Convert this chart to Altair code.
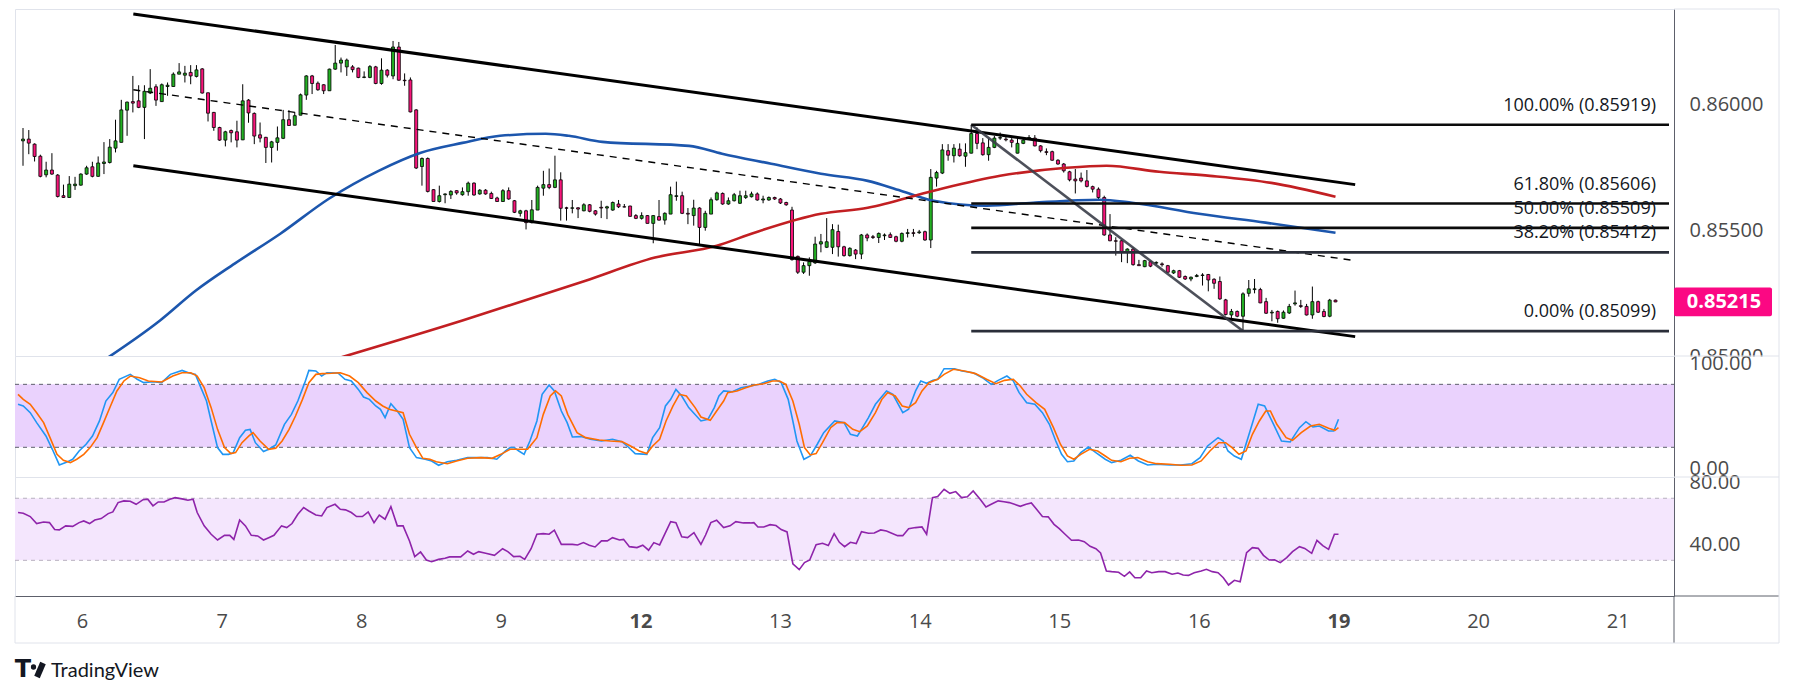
import altair as alt
import pandas as pd

# ------------------------------------------------------------------ data
day_ticks = [0, 24, 48, 72, 96, 120, 144, 168, 192, 216, 240, 264]
day_labels = ["6", "7", "8", "9", "12", "13", "14", "15", "16", "19", "20", "21"]
week_start_ticks = [96, 216]

price_ticks = [0.85, 0.855, 0.86]
stoch_ticks = [0, 100]
rsi_ticks = [40, 80]

first_bar = -11  # hourly bars, 0 = day 6 00:00

open_ = [0.85855, 0.85862, 0.85842, 0.85794, 0.85720, 0.85739, 0.85719, 0.85637, 0.85630, 0.85677,
         0.85679, 0.85723, 0.85752, 0.85714, 0.85765, 0.85769, 0.85826, 0.85849, 0.85977, 0.86011,
         0.86014, 0.85988, 0.86045, 0.86070, 0.86011, 0.86071, 0.86071, 0.86120, 0.86116, 0.86127,
         0.86111, 0.86141, 0.86046, 0.85968, 0.85908, 0.85858, 0.85896, 0.85891, 0.85859, 0.86017,
         0.85964, 0.85879, 0.85869, 0.85829, 0.85849, 0.85865, 0.85939, 0.85917, 0.85957, 0.86037,
         0.86113, 0.86084, 0.86078, 0.86054, 0.86140, 0.86164, 0.86149, 0.86149, 0.86144, 0.86107,
         0.86107, 0.86149, 0.86083, 0.86136, 0.86113, 0.86228, 0.86096, 0.86097, 0.85978, 0.85753,
         0.85785, 0.85661, 0.85614, 0.85641, 0.85640, 0.85657, 0.85641, 0.85653, 0.85687, 0.85644,
         0.85659, 0.85646, 0.85628, 0.85614, 0.85657, 0.85617, 0.85567, 0.85577, 0.85530, 0.85580,
         0.85667, 0.85681, 0.85670, 0.85700, 0.85589, 0.85587, 0.85589, 0.85577, 0.85601, 0.85577,
         0.85591, 0.85588, 0.85580, 0.85604, 0.85593, 0.85596, 0.85558, 0.85547, 0.85558, 0.85527,
         0.85554, 0.85540, 0.85564, 0.85634, 0.85637, 0.85567, 0.85558, 0.85588, 0.85511, 0.85564,
         0.85621, 0.85646, 0.85604, 0.85617, 0.85607, 0.85630, 0.85633, 0.85644, 0.85620, 0.85620,
         0.85630, 0.85624, 0.85610, 0.85580, 0.85396, 0.85333, 0.85359, 0.85370, 0.85445, 0.85432,
         0.85432, 0.85495, 0.85434, 0.85399, 0.85421, 0.85405, 0.85481, 0.85474, 0.85471, 0.85478,
         0.85482, 0.85474, 0.85456, 0.85487, 0.85490, 0.85490, 0.85494, 0.85461, 0.85707, 0.85727,
         0.85816, 0.85796, 0.85822, 0.85794, 0.85806, 0.85884, 0.85847, 0.85800, 0.85829, 0.85866,
         0.85862, 0.85858, 0.85806, 0.85845, 0.85866, 0.85866, 0.85835, 0.85812, 0.85812, 0.85778,
         0.85763, 0.85732, 0.85703, 0.85707, 0.85696, 0.85673, 0.85663, 0.85630, 0.85481, 0.85458,
         0.85458, 0.85415, 0.85425, 0.85363, 0.85355, 0.85375, 0.85369, 0.85366, 0.85359, 0.85330,
         0.85339, 0.85316, 0.85306, 0.85316, 0.85320, 0.85324, 0.85305, 0.85296, 0.85223, 0.85163,
         0.85177, 0.85158, 0.85249, 0.85264, 0.85264, 0.85216, 0.85171, 0.85177, 0.85150, 0.85171,
         0.85207, 0.85200, 0.85197, 0.85163, 0.85216, 0.85177, 0.85158, 0.85222]
high = [0.85906, 0.85898, 0.85845, 0.85800, 0.85772, 0.85806, 0.85723, 0.85681, 0.85715, 0.85712,
        0.85726, 0.85756, 0.85772, 0.85793, 0.85850, 0.85862, 0.85939, 0.86018, 0.86011, 0.86113,
        0.86076, 0.86076, 0.86140, 0.86080, 0.86083, 0.86087, 0.86127, 0.86164, 0.86153, 0.86156,
        0.86156, 0.86144, 0.86047, 0.85970, 0.85911, 0.85895, 0.85900, 0.85935, 0.86080, 0.86021,
        0.85968, 0.85928, 0.85871, 0.85855, 0.85912, 0.85978, 0.85977, 0.85970, 0.86043, 0.86116,
        0.86117, 0.86091, 0.86080, 0.86142, 0.86236, 0.86186, 0.86182, 0.86156, 0.86146, 0.86131,
        0.86156, 0.86153, 0.86183, 0.86140, 0.86252, 0.86248, 0.86123, 0.86107, 0.85981, 0.85789,
        0.85789, 0.85663, 0.85677, 0.85646, 0.85659, 0.85659, 0.85670, 0.85693, 0.85690, 0.85663,
        0.85663, 0.85653, 0.85633, 0.85663, 0.85670, 0.85620, 0.85581, 0.85581, 0.85620, 0.85677,
        0.85736, 0.85745, 0.85796, 0.85730, 0.85593, 0.85620, 0.85591, 0.85607, 0.85604, 0.85580,
        0.85617, 0.85597, 0.85614, 0.85620, 0.85604, 0.85597, 0.85564, 0.85571, 0.85560, 0.85560,
        0.85620, 0.85571, 0.85673, 0.85693, 0.85653, 0.85588, 0.85621, 0.85591, 0.85577, 0.85630,
        0.85653, 0.85650, 0.85630, 0.85648, 0.85657, 0.85657, 0.85653, 0.85650, 0.85637, 0.85634,
        0.85633, 0.85628, 0.85613, 0.85593, 0.85399, 0.85372, 0.85392, 0.85474, 0.85485, 0.85548,
        0.85524, 0.85522, 0.85438, 0.85432, 0.85425, 0.85485, 0.85487, 0.85481, 0.85491, 0.85487,
        0.85491, 0.85478, 0.85491, 0.85505, 0.85505, 0.85501, 0.85498, 0.85743, 0.85736, 0.85842,
        0.85842, 0.85842, 0.85845, 0.85845, 0.85919, 0.85908, 0.85866, 0.85864, 0.85875, 0.85888,
        0.85871, 0.85866, 0.85868, 0.85868, 0.85878, 0.85878, 0.85838, 0.85825, 0.85816, 0.85782,
        0.85767, 0.85736, 0.85743, 0.85729, 0.85739, 0.85677, 0.85670, 0.85637, 0.85564, 0.85472,
        0.85462, 0.85428, 0.85432, 0.85382, 0.85382, 0.85379, 0.85376, 0.85372, 0.85362, 0.85343,
        0.85342, 0.85320, 0.85316, 0.85326, 0.85329, 0.85326, 0.85309, 0.85316, 0.85227, 0.85187,
        0.85181, 0.85253, 0.85302, 0.85306, 0.85271, 0.85231, 0.85183, 0.85181, 0.85181, 0.85207,
        0.85260, 0.85223, 0.85207, 0.85276, 0.85220, 0.85187, 0.85227, 0.85224]
low = [0.85756, 0.85802, 0.85773, 0.85710, 0.85710, 0.85720, 0.85630, 0.85628, 0.85629, 0.85660,
       0.85677, 0.85720, 0.85710, 0.85712, 0.85723, 0.85765, 0.85809, 0.85849, 0.85875, 0.85968,
       0.85985, 0.85862, 0.86041, 0.85994, 0.86010, 0.86034, 0.86070, 0.86120, 0.86087, 0.86080,
       0.86107, 0.86043, 0.85932, 0.85895, 0.85855, 0.85833, 0.85849, 0.85829, 0.85858, 0.85927,
       0.85842, 0.85849, 0.85767, 0.85769, 0.85816, 0.85862, 0.85915, 0.85917, 0.85957, 0.86018,
       0.86041, 0.86054, 0.86041, 0.86054, 0.86137, 0.86127, 0.86113, 0.86127, 0.86104, 0.86104,
       0.86104, 0.86080, 0.86078, 0.86107, 0.86100, 0.86094, 0.86074, 0.85968, 0.85743, 0.85677,
       0.85650, 0.85614, 0.85610, 0.85607, 0.85624, 0.85641, 0.85637, 0.85637, 0.85637, 0.85641,
       0.85641, 0.85624, 0.85614, 0.85613, 0.85621, 0.85568, 0.85554, 0.85503, 0.85527, 0.85580,
       0.85637, 0.85663, 0.85667, 0.85538, 0.85538, 0.85567, 0.85548, 0.85575, 0.85571, 0.85558,
       0.85548, 0.85544, 0.85577, 0.85588, 0.85591, 0.85554, 0.85544, 0.85542, 0.85527, 0.85448,
       0.85538, 0.85522, 0.85564, 0.85617, 0.85564, 0.85524, 0.85518, 0.85445, 0.85498, 0.85564,
       0.85617, 0.85601, 0.85601, 0.85614, 0.85604, 0.85624, 0.85630, 0.85617, 0.85607, 0.85617,
       0.85620, 0.85604, 0.85597, 0.85379, 0.85326, 0.85326, 0.85319, 0.85366, 0.85412, 0.85429,
       0.85405, 0.85395, 0.85395, 0.85395, 0.85385, 0.85385, 0.85456, 0.85465, 0.85449, 0.85461,
       0.85469, 0.85452, 0.85452, 0.85471, 0.85474, 0.85485, 0.85458, 0.85429, 0.85673, 0.85723,
       0.85776, 0.85769, 0.85792, 0.85752, 0.85805, 0.85822, 0.85796, 0.85776, 0.85826, 0.85859,
       0.85853, 0.85829, 0.85805, 0.85842, 0.85862, 0.85833, 0.85809, 0.85798, 0.85776, 0.85760,
       0.85729, 0.85694, 0.85646, 0.85690, 0.85670, 0.85650, 0.85620, 0.85478, 0.85456, 0.85399,
       0.85373, 0.85369, 0.85359, 0.85359, 0.85353, 0.85353, 0.85363, 0.85355, 0.85330, 0.85326,
       0.85310, 0.85302, 0.85297, 0.85313, 0.85280, 0.85257, 0.85267, 0.85223, 0.85161, 0.85150,
       0.85154, 0.85099, 0.85236, 0.85249, 0.85210, 0.85167, 0.85138, 0.85132, 0.85148, 0.85167,
       0.85200, 0.85191, 0.85161, 0.85148, 0.85171, 0.85154, 0.85154, 0.85214]
close = [0.85862, 0.85846, 0.85793, 0.85714, 0.85739, 0.85723, 0.85634, 0.85630, 0.85683, 0.85683,
         0.85723, 0.85748, 0.85714, 0.85767, 0.85771, 0.85830, 0.85855, 0.85978, 0.86009, 0.86005,
         0.85988, 0.86052, 0.86064, 0.86017, 0.86078, 0.86076, 0.86120, 0.86129, 0.86124, 0.86113,
         0.86137, 0.86045, 0.85965, 0.85908, 0.85858, 0.85891, 0.85887, 0.85858, 0.86014, 0.85966,
         0.85874, 0.85866, 0.85829, 0.85851, 0.85867, 0.85939, 0.85916, 0.85955, 0.86038, 0.86113,
         0.86083, 0.86058, 0.86054, 0.86140, 0.86164, 0.86176, 0.86176, 0.86138, 0.86107, 0.86109,
         0.86150, 0.86083, 0.86136, 0.86116, 0.86228, 0.86096, 0.86094, 0.85970, 0.85747, 0.85785,
         0.85654, 0.85614, 0.85637, 0.85644, 0.85654, 0.85648, 0.85653, 0.85687, 0.85640, 0.85659,
         0.85644, 0.85626, 0.85614, 0.85657, 0.85624, 0.85571, 0.85577, 0.85530, 0.85581, 0.85670,
         0.85681, 0.85670, 0.85700, 0.85587, 0.85587, 0.85589, 0.85584, 0.85601, 0.85575, 0.85564,
         0.85588, 0.85593, 0.85610, 0.85593, 0.85592, 0.85555, 0.85547, 0.85558, 0.85527, 0.85558,
         0.85540, 0.85567, 0.85641, 0.85637, 0.85567, 0.85564, 0.85588, 0.85511, 0.85567, 0.85621,
         0.85648, 0.85604, 0.85617, 0.85641, 0.85637, 0.85637, 0.85644, 0.85620, 0.85624, 0.85630,
         0.85624, 0.85608, 0.85601, 0.85383, 0.85333, 0.85359, 0.85375, 0.85445, 0.85454, 0.85454,
         0.85502, 0.85434, 0.85399, 0.85428, 0.85405, 0.85481, 0.85469, 0.85471, 0.85487, 0.85481,
         0.85471, 0.85456, 0.85487, 0.85490, 0.85487, 0.85493, 0.85461, 0.85710, 0.85729, 0.85819,
         0.85798, 0.85826, 0.85796, 0.85808, 0.85884, 0.85845, 0.85800, 0.85829, 0.85866, 0.85868,
         0.85859, 0.85849, 0.85845, 0.85858, 0.85868, 0.85835, 0.85816, 0.85809, 0.85778, 0.85763,
         0.85736, 0.85700, 0.85696, 0.85696, 0.85674, 0.85663, 0.85630, 0.85481, 0.85458, 0.85456,
         0.85412, 0.85425, 0.85363, 0.85359, 0.85379, 0.85357, 0.85372, 0.85363, 0.85333, 0.85339,
         0.85313, 0.85306, 0.85313, 0.85320, 0.85322, 0.85302, 0.85289, 0.85227, 0.85165, 0.85177,
         0.85158, 0.85247, 0.85267, 0.85267, 0.85211, 0.85170, 0.85174, 0.85148, 0.85174, 0.85197,
         0.85211, 0.85197, 0.85163, 0.85216, 0.85174, 0.85157, 0.85222, 0.85215]

ma_blue_t = [2, 12.7, 18.9, 25.6, 33.5, 41.9, 50.5, 57.8, 65, 71.5, 79.4, 83.4, 89.2, 104.2,
             109.9, 118.4, 127, 135.1, 140.8, 146.5, 155.7, 163.7, 175.2, 180.8, 192.4, 203.9, 216]
ma_blue_v = [0.84968, 0.85141, 0.85260, 0.85367, 0.85486, 0.85625, 0.85736, 0.85808, 0.85847,
             0.85875, 0.85883, 0.85875, 0.85851, 0.85835, 0.85804, 0.85764, 0.85724, 0.85696,
             0.85657, 0.85617, 0.85597, 0.85609, 0.85621, 0.85609, 0.85565, 0.85530, 0.85490]
ma_red_t = [41, 65, 86.3, 98.3, 109, 115.5, 127, 135.1, 146.5, 158, 169.5, 176.4, 185.5,
            194.3, 204.9, 216]
ma_red_v = [0.84974, 0.85141, 0.85299, 0.85391, 0.85438, 0.85490, 0.85565, 0.85589, 0.85657,
            0.85716, 0.85748, 0.85756, 0.85732, 0.85716, 0.85688, 0.85633]

channel_t = [8.08, 219.4]
channel_upper = [0.86359, 0.85681]
channel_mid = [0.86058, 0.85379]
channel_lower = [0.85756, 0.85077]

swing_t = [153, 200]
swing_v = [0.85919, 0.85099]

fib_pct = ["100.00%", "61.80%", "50.00%", "38.20%", "0.00%"]
fib_level = [0.85919, 0.85606, 0.85509, 0.85412, 0.85099]
fib_start = 153

last_price = 0.85215

stoch_k_t = [-11, -10.1, -8.9, -7.8, -6.2, -5.1, -3.9, -2.8, -1.6, -0.5, 0.7, 1.8, 3.0, 4.1, 5.3,
             6.4, 8.3, 9.5, 10.6, 12.2, 13.7, 15.2, 17.2, 18.3, 19.5, 20.2, 21.4, 22.2, 23.3,
             24.2, 25.2, 26.0, 27.1, 28.1, 28.9, 29.8, 31.2, 32.1, 33.3, 34.8, 36.0, 37.1, 38.3,
             39.0, 40.2, 41.2, 42.1, 44.0, 45.2, 46.3, 47.5, 48.4, 49.4, 50.5, 51.3, 52.1, 53.1,
             54.2, 55.2, 56.3, 57.5, 59.0, 60.1, 61.3, 62.8, 64.4, 66.3, 68.2, 69.7, 71.3, 72.8,
             73.6, 74.3, 75.1, 76.0, 77.0, 78.2, 79.1, 80.3, 81.2, 82.4, 83.4, 84.3, 85.8, 87.4,
             89.3, 91.2, 92.8, 93.9, 95.1, 97.1, 98.1, 99.3, 100.3, 101.2, 102.1, 103.1, 104.3,
             106.4, 107.6, 108.7, 109.5, 110.3, 111.8, 113.3, 114.9, 116.4, 117.9, 119.1, 120.2,
             121.4, 122.2, 122.9, 124.1, 125.2, 126.4, 127.5, 129.4, 131.0, 132.1, 133.3, 134.0,
             135.2, 136.4, 138.3, 139.4, 141.1, 142.1, 143.3, 144.2, 145.2, 146.3, 147.1, 148.2,
             150.0, 151.3, 153.2, 154.8, 156.3, 157.5, 159.0, 160.1, 161.1, 162.4, 163.8, 165.1,
             166.3, 167.4, 168.4, 169.4, 170.5, 171.7, 173.0, 174.3, 175.9, 177.0, 178.6, 180.2,
             181.6, 183.2, 184.7, 187.0, 188.9, 190.8, 192.2, 193.5, 195.3, 196.2, 197.0, 198.1,
             199.3, 200.8, 202.2, 203.3, 204.7, 206.2, 207.7, 209.3, 210.4, 211.6, 212.7, 214.3,
             215.2, 216]
stoch_k_v = [61.0, 59.4, 53.0, 43.5, 30.8, 18.1, 3.2, 5.4, 8.6, 16.5, 22.9, 30.8, 45.1, 64.1, 72.1,
             84.8, 89.5, 84.8, 81.6, 82.5, 81.6, 89.5, 93.3, 91.1, 89.5, 80.0, 64.1, 45.1, 19.7,
             13.3, 13.3, 14.9, 29.2, 36.2, 37.1, 24.4, 15.9, 18.1, 22.2, 41.9, 51.4, 64.1, 81.6,
             93.3, 92.7, 87.9, 91.1, 90.8, 84.8, 83.2, 75.2, 67.9, 65.7, 59.4, 56.2, 48.3, 61.6,
             54.6, 46.7, 19.7, 10.2, 8.6, 7.0, 2.9, 6.3, 7.6, 10.2, 10.2, 10.2, 8.6, 16.5,
             19.7, 19.7, 16.5, 13.3, 26.0, 45.1, 70.5, 79.4, 73.7, 54.6, 43.5, 29.8, 30.2, 27.6,
             26.0, 27.6, 25.4, 20.3, 14.0, 13.3, 29.2, 38.7, 59.4, 65.7, 75.2, 68.9, 57.8,
             45.1, 46.7, 57.8, 68.9, 73.7, 73.0, 76.8, 78.4, 80.0, 83.2, 84.8, 81.6,
             65.7, 45.1, 26.0, 8.6, 11.7, 22.9, 34.0, 45.1, 43.5, 32.4, 30.8, 37.1,
             48.3, 61.0, 73.7, 70.5, 53.0, 56.2, 73.7, 83.2, 81.0, 83.8, 84.8, 94.9,
             94.9, 92.7, 91.1, 86.3, 80.0, 83.8, 87.9, 83.2, 72.1, 62.5, 61.0, 53.0,
             41.9, 26.0, 13.3, 6.3, 7.0, 14.9, 20.3, 14.9, 8.6, 5.4, 7.6, 12.4,
             7.0, 3.2, 3.8, 3.2, 3.2, 4.4, 10.2, 21.3, 29.2, 26.0, 16.5, 11.7,
             8.6, 35.6, 61.0, 59.4, 43.5, 26.0, 25.1, 38.7, 44.4, 39.4, 40.3, 35.6,
             35.6, 46.7]
stoch_d_t = [-11, -10.1, -8.9, -7.8, -6.6, -5.5, -4.3, -3.2, -2.0, -0.9, 0.3, 1.4, 2.6, 3.7, 4.9,
             6.0, 7.2, 8.3, 9.9, 11.4, 13.7, 15.6, 17.2, 18.7, 19.8, 21.0, 22.2, 23.3, 24.5, 25.6,
             26.4, 27.5, 28.7, 29.4, 30.6, 32.1, 33.3, 34.4, 35.6, 36.7, 37.9, 39.0, 40.2, 41.3,
             42.9, 44.4, 46.0, 47.5, 49.0, 50.5, 51.7, 52.8, 55.2, 56.3, 57.5, 58.6, 59.8, 60.9,
             62.8, 64.4, 66.3, 68.6, 70.5, 72.0, 73.6, 75.1, 76.6, 78.2, 79.3, 80.5, 81.4, 82.4,
             83.5, 85.1, 86.6, 88.9, 90.8, 92.8, 94.3, 95.8, 97.1, 98.1, 99.3, 100.4, 101.6,
             102.7, 103.9, 105.4,
             106.4, 108.0, 109.1, 110.3, 111.0, 112.6, 114.1, 115.6, 117.2, 118.7, 119.9, 121.0,
             122.2, 123.3, 124.2, 125.2, 126.2, 127.3, 128.7, 129.8, 131.1, 132.5, 133.7, 135.0,
             136.4, 137.5, 138.5, 139.8, 141.0, 142.1, 143.3, 144.4, 145.6, 147.1, 148.2, 149.8,
             151.7, 153.6, 155.5, 157.1, 158.6, 160.1, 161.3, 162.4, 164.0, 165.5, 167.0, 168.2,
             169.4, 170.5, 171.7, 173.2, 174.6, 175.9, 177.0, 178.6, 180.1, 181.5, 183.2, 184.7,
             187.0, 188.9, 190.8, 192.4, 193.9, 195.4, 196.6, 197.7, 198.9, 200.1, 201.2, 202.4,
             203.5, 204.3, 205.4, 207.0, 208.1, 209.6, 211.2, 212.7, 214.3, 215.4, 216]
stoch_d_v = [70.5, 65.7, 61.0, 53.0, 43.5, 29.2, 13.3, 7.6, 5.4, 8.6, 13.3, 19.7, 29.2, 43.5, 59.4,
             73.7, 83.2, 87.9, 86.3, 83.2, 82.2, 87.9, 91.1, 91.1, 87.9, 76.8, 57.8, 37.1, 19.7, 14.0,
             14.9, 24.4, 30.8, 34.0, 26.0, 18.1, 19.0, 26.0, 37.1, 49.8, 65.7, 81.6, 89.5, 90.2,
             90.5, 91.1, 87.9, 81.6, 72.1, 64.1, 59.4, 56.2, 53.0, 32.4, 19.7, 9.5, 8.6, 6.3,
             4.4, 7.0, 9.5, 10.2, 9.5, 13.3, 18.1, 18.1, 18.1, 29.2, 51.4, 68.9, 73.7, 68.9,
             51.4, 34.0, 29.2, 27.0, 26.0, 25.4, 21.3, 16.5, 14.0, 21.3, 27.6, 45.1, 59.4,
             70.5, 68.9, 57.8,
             48.9, 45.7, 54.6, 64.1, 72.1, 73.7, 76.8, 79.4, 80.6, 83.2, 83.2, 80.0,
             64.1, 41.9, 19.7, 12.7, 14.0, 24.4, 38.7, 43.5, 43.5, 37.1, 34.9, 40.3,
             53.0, 65.7, 72.1, 68.9, 59.4, 57.8, 62.5, 73.7, 81.6, 84.8, 89.5, 94.3,
             92.7, 90.2, 84.8, 80.6, 83.8, 84.8, 78.4, 70.5, 62.5, 56.2, 38.7, 22.9,
             11.7, 8.6, 13.3, 18.1, 16.5, 11.7, 7.6, 6.3, 9.5, 10.2, 6.3, 4.4,
             3.8, 2.9, 3.2, 7.0, 16.5, 24.4, 24.4, 19.7, 13.3, 16.5, 32.4, 45.1,
             54.6, 54.6, 41.9, 29.2, 26.7, 34.0, 40.3, 41.9, 38.1, 36.2, 38.7]

rsi_t = [-11, -10.1, -8.9, -7.8, -6.6, -5.6, -4.7, -3.9, -2.8, -1.6, -0.5, 0.3, 1.3, 2.2, 3.3,
         4.5, 5.3, 6.2, 7.2, 8.3, 9.3, 10.5, 11.3, 12.2, 13.1, 14.1, 15.1, 16.0, 17.2, 18.2,
         19.1, 19.8, 21.0, 22.2, 23.3, 24.5, 25.4, 26.1, 27.1, 28.1, 29.1, 30.2, 31.2, 32.1,
         33.0, 34.3, 35.2, 36.1, 37.1, 38.1, 39.0, 40.2, 41.2, 42.1, 43.5, 44.4, 45.3, 46.3,
         47.2, 48.2, 49.2, 50.2, 51.1, 52.1, 53.1, 54.2, 55.2, 56.3, 57.2, 58.2, 59.2, 60.1,
         61.3, 62.4, 63.2, 65.1, 66.3, 67.3, 68.2, 69.4, 70.9, 72.3, 73.2, 74.2, 75.3, 76.1,
         77.2, 78.2, 79.3, 80.3, 81.2, 82.4, 84.3, 85.2, 86.2, 87.2, 88.2, 89.3, 90.3, 91.2,
         92.4, 93.1, 94.1, 95.4, 96.4, 97.4, 98.3, 99.3, 100.3, 101.2, 102.1, 103.1, 104.1,
         105.2,
         106.4, 107.2, 108.1, 109.1, 110.3, 111.4, 112.4, 113.7, 114.9, 115.5, 116.2, 117.2,
         118.3, 119.3, 120.2, 121.2, 122.2, 123.3, 124.2, 125.1, 126.2, 127.3, 128.3, 129.3,
         130.2, 131.1, 132.1, 133.1, 134.0, 135.2, 136.2, 137.3, 138.3, 139.0, 140.2, 141.1,
         142.1, 143.3, 144.4, 145.2, 146.2, 147.1, 148.2, 149.2, 150.2, 151.2, 152.2, 153.2,
         154.4, 155.4, 156.3, 157.5, 158.5, 159.4, 160.3, 161.3, 162.3, 163.2, 164.1, 165.1,
         166.1, 167.1, 168.0, 169.0, 170.1, 171.3, 172.3, 173.3, 174.3, 175.1, 176.1, 177.0,
         178.2, 179.2, 180.1, 181.0, 182.0, 183.0, 183.9, 185.1, 186.2, 187.4, 188.4, 189.3,
         190.2, 191.2, 192.4, 193.3, 194.3, 195.3, 196.2, 197.1, 198.1, 199.1, 200.2, 201.2,
         202.2, 203.1, 204.1, 205.0, 206.0, 207.1, 208.1, 209.3, 210.2, 211.4, 212.3, 213.3,
         214.3, 215.3, 216]
rsi_v = [60.8, 60.3, 58.2, 53.7, 54.7, 54.3, 49.8, 49.6, 52.2, 51.9, 54.3, 55.4, 53.7, 56.0, 56.9,
         60.1, 61.2, 67.2, 68.3, 68.1, 66.1, 69.1, 69.4, 65.1, 67.6, 67.6, 69.4, 70.4, 69.6, 68.7,
         69.4, 60.8, 52.2, 46.8, 43.1, 46.1, 46.1, 43.5, 56.0, 52.2, 46.1, 45.7, 43.1, 44.6,
         46.1, 52.2, 51.1, 53.7, 59.7, 64.0, 61.8, 59.2, 58.6, 64.0, 66.1, 62.9, 62.5, 60.8,
         58.2, 58.2, 61.2, 54.3, 59.2, 56.5, 64.6, 52.2, 52.2, 42.5, 32.4, 35.4, 30.2, 29.1,
         30.6, 31.3, 32.2, 32.2, 36.0, 33.9, 35.6, 34.5, 33.2, 37.5, 35.6, 32.4, 32.6, 30.6,
         37.5, 46.8, 47.2, 46.8, 49.4, 40.3, 40.3, 39.9, 41.4, 39.7, 38.6, 42.5, 42.5, 44.6,
         43.1, 43.5, 38.8, 38.2, 39.7, 36.5, 41.4, 39.9, 47.8, 54.9, 54.3, 45.1, 44.6,
         47.8,
         40.3, 46.3, 54.3, 55.8, 51.1, 52.2, 54.9, 54.1, 54.1, 54.3, 51.5, 51.5,
         53.0, 52.4, 49.8, 48.3, 27.8, 24.0, 28.5, 30.2, 40.1, 41.0, 39.5, 47.2,
         41.6, 38.8, 41.6, 40.8, 48.5, 47.4, 47.6, 49.6, 48.9, 47.8, 45.9, 45.9,
         50.4, 51.1, 51.5, 46.8, 70.4, 71.1, 75.8, 73.2, 74.3, 70.4, 70.9, 74.7,
         69.4, 64.4, 66.1, 68.3, 67.8, 67.2, 66.1, 64.8, 66.1, 67.0, 62.9, 58.2,
         58.0, 53.2, 50.4, 46.8, 42.9, 43.1, 42.0, 39.0, 37.5, 34.7, 23.1, 22.7,
         22.3, 19.7, 22.5, 18.8, 18.8, 23.1, 22.0, 22.7, 22.7, 21.0, 21.8, 20.5,
         20.3, 22.0, 23.1, 24.2, 22.7, 22.0, 18.8, 14.1, 17.1, 16.2, 34.9, 38.2,
         37.7, 33.2, 30.2, 30.4, 28.5, 31.7, 35.6, 38.8, 37.7, 34.5, 42.9, 39.5,
         37.1, 46.8, 46.8]

# ------------------------------------------------------------------ layout / style
W = 1659
H_PRICE, H_STOCH, H_RSI = 347, 121, 119
X_MIN, X_MAX = -11.52, 273.68
P_MIN, P_MAX = 0.85, 0.86379
S_MIN, S_MAX = -8.3, 107.0
R_MIN, R_MAX = 7.0, 83.7

FONT = "Open Sans"
AX_TXT = "#4a4a4a"
AX_LINE = "#5d606b"
FRAME = "#e0e3eb"
GREEN, RED = "#22b022", "#f7157a"

xs = alt.Scale(domain=[X_MIN, X_MAX], nice=False, zero=False)
ps = alt.Scale(domain=[P_MIN, P_MAX], nice=False, zero=False)
ss = alt.Scale(domain=[S_MIN, S_MAX], nice=False, zero=False)
rs = alt.Scale(domain=[R_MIN, R_MAX], nice=False, zero=False)


def right_axis(values, fmt, z=0):
    return alt.Axis(orient="right", values=values, format=fmt, title=None, grid=False,
                    ticks=False, domain=True, domainColor=AX_LINE, domainWidth=1,
                    labelPadding=15, labelFontSize=20, labelColor=AX_TXT, labelFont=FONT,
                    labelFlush=False, labelOverlap=False, labelBound=False, zindex=z)


P_AXIS = right_axis(price_ticks, ".5f")
S_AXIS = right_axis(stoch_ticks, ".2f", z=1)
R_AXIS = right_axis(rsi_ticks, ".2f")

X_AXIS = alt.Axis(values=day_ticks, title=None, grid=False, ticks=False, domain=True,
                  domainColor=AX_LINE, domainWidth=1, labelPadding=15, labelFontSize=20,
                  labelColor=AX_TXT, labelFont=FONT, labelFlush=False, labelOverlap=False,
                  labelExpr=str(day_labels).replace('"', "'") + "[round(datum.value / 24)]",
                  labelFontWeight={"condition": {"test": " || ".join(
                      f"datum.value == {v}" for v in week_start_ticks), "value": "bold"},
                      "value": "normal"})


def PX(field):
    return alt.X(field, type="quantitative", scale=xs, axis=None)


def PY(field):
    return alt.Y(field, type="quantitative", scale=ps, axis=P_AXIS)


# ------------------------------------------------------------------ price panel
bars = list(range(first_bar, first_bar + len(close)))
candles = pd.DataFrame({"t": bars, "open": open_, "high": high, "low": low, "close": close})

wicks = alt.Chart(candles).mark_rule(color="#000000", strokeWidth=1).encode(
    x=PX("t"), y=PY("low"), y2="high")
bodies = alt.Chart(candles).mark_bar(size=3, stroke="#000000", strokeWidth=0.8).encode(
    x=PX("t"), y=PY("open"), y2="close",
    color=alt.condition("datum.close >= datum.open", alt.value(GREEN), alt.value(RED)))

blue = alt.Chart(pd.DataFrame({"t": ma_blue_t, "v": ma_blue_v})).mark_line(
    color="#1c56ad", strokeWidth=2.6, interpolate="monotone", clip=True).encode(
    x=PX("t"), y=PY("v"))
red = alt.Chart(pd.DataFrame({"t": ma_red_t, "v": ma_red_v})).mark_line(
    color="#c21f22", strokeWidth=2.6, interpolate="monotone", clip=True).encode(
    x=PX("t"), y=PY("v"))

ch = pd.DataFrame({"t": channel_t * 2, "v": channel_upper + channel_lower,
                   "side": ["upper"] * 2 + ["lower"] * 2})
chan = alt.Chart(ch).mark_line(color="#000000", strokeWidth=3, clip=True).encode(
    x=PX("t"), y=PY("v"), detail="side:N")
mid = alt.Chart(pd.DataFrame({"t": channel_t, "v": channel_mid})).mark_line(
    color="#000000", strokeWidth=1.4, strokeDash=[7, 6], clip=True).encode(
    x=PX("t"), y=PY("v"))

swing = alt.Chart(pd.DataFrame({"t": swing_t, "v": swing_v})).mark_line(
    color="#3a3d48", strokeWidth=2.6, opacity=0.9).encode(x=PX("t"), y=PY("v"))

fib = pd.DataFrame({"pct": fib_pct, "v": fib_level})
fib["t0"] = fib_start
fib["t1"] = X_MAX
fib["label"] = [f"{p} ({v:.5f})" for p, v in zip(fib_pct, fib_level)]
fib["col"] = ["#0b0b0b", "#0b0b0b", "#0b0b0b", "#2a2e39", "#2a2e39"]
fib_lines = alt.Chart(fib).mark_rule(strokeWidth=2.6).encode(
    x=PX("t0"), x2="t1", y=PY("v"), color=alt.Color("col:N", scale=None))
fib_text = alt.Chart(fib).mark_text(align="right", baseline="middle", dx=-13, dy=-19,
                                    fontSize=18, font=FONT, color="#131722").encode(
    x=PX("t1"), y=PY("v"), text="label:N")

lp = pd.DataFrame({"v": [last_price]})
lp["lo"] = lp["v"] - 0.000575
lp["hi"] = lp["v"] + 0.000575
lp["txt"] = lp["v"].map(lambda v: f"{v:.5f}")
lp_box = alt.Chart(lp).mark_rect(color="#fb0883", cornerRadius=2).encode(
    x=alt.value(W), x2=alt.value(W + 98), y=PY("lo"), y2="hi")
lp_txt = alt.Chart(lp).mark_text(color="#ffffff", fontSize=20, fontWeight="bold", font=FONT,
                                 align="center", baseline="middle").encode(
    x=alt.value(W + 50), y=PY("v"), text="txt:N")

price = alt.layer(wicks, bodies, blue, red, chan, mid, swing, fib_lines, fib_text,
                  lp_box, lp_txt).properties(width=W, height=H_PRICE)

# ------------------------------------------------------------------ stochastic panel
def SX(field):
    return alt.X(field, type="quantitative", scale=xs, axis=None)


def SY(field):
    return alt.Y(field, type="quantitative", scale=ss, axis=S_AXIS)


one = pd.DataFrame({"a": [0]})

sband = pd.DataFrame({"x0": [X_MIN], "x1": [X_MAX], "lo": [20], "hi": [80]})
s_band = alt.Chart(sband).mark_rect(color="#ead2fd").encode(
    x=SX("x0"), x2="x1", y=SY("lo"), y2="hi")
s_lv = pd.DataFrame({"x0": [X_MIN, X_MIN], "x1": [X_MAX, X_MAX], "v": [20, 80]})
s_rules = alt.Chart(s_lv).mark_rule(color="#5d606b", strokeWidth=1, strokeDash=[4, 4]).encode(
    x=SX("x0"), x2="x1", y=SY("v"))
s_k = alt.Chart(pd.DataFrame({"t": stoch_k_t, "v": stoch_k_v})).mark_line(
    color="#2196f3", strokeWidth=1.6).encode(x=SX("t"), y=SY("v"))
s_d = alt.Chart(pd.DataFrame({"t": stoch_d_t, "v": stoch_d_v})).mark_line(
    color="#ff6d00", strokeWidth=1.6).encode(x=SX("t"), y=SY("v"))
# the price-scale column of this pane hides the lower half of the price label above it
s_cover = alt.Chart(one).mark_rect(color="#ffffff").encode(
    x=alt.value(W + 1), x2=alt.value(W + 104), y=alt.value(0.5), y2=alt.value(H_STOCH))
stoch = alt.layer(s_band, s_rules, s_k, s_d, s_cover).properties(width=W, height=H_STOCH)

# ------------------------------------------------------------------ RSI panel
def RX(field):
    return alt.X(field, type="quantitative", scale=xs, axis=X_AXIS)


def RY(field):
    return alt.Y(field, type="quantitative", scale=rs, axis=R_AXIS)


rband = pd.DataFrame({"x0": [X_MIN], "x1": [X_MAX], "lo": [30], "hi": [70]})
r_band = alt.Chart(rband).mark_rect(color="#f4e6fd").encode(
    x=RX("x0"), x2="x1", y=RY("lo"), y2="hi")
r_lv = pd.DataFrame({"x0": [X_MIN, X_MIN], "x1": [X_MAX, X_MAX], "v": [30, 70]})
r_rules = alt.Chart(r_lv).mark_rule(color="#b7b0be", strokeWidth=1, strokeDash=[4, 4]).encode(
    x=RX("x0"), x2="x1", y=RY("v"))
r_line = alt.Chart(pd.DataFrame({"t": rsi_t, "v": rsi_v})).mark_line(
    color="#8e24aa", strokeWidth=1.6).encode(x=RX("t"), y=RY("v"))

FR = W + 105  # right edge of the widget frame
LOGO_Y = H_RSI + 74
deco = [
    # separators and axis line continuing into the price-scale column
    alt.Chart(one).mark_rule(color=FRAME, strokeWidth=1).encode(
        x=alt.value(W), x2=alt.value(FR), y=alt.value(-H_STOCH)),
    alt.Chart(one).mark_rule(color=FRAME, strokeWidth=1).encode(
        x=alt.value(W), x2=alt.value(FR), y=alt.value(0)),
    alt.Chart(one).mark_rule(color=FRAME, strokeWidth=1).encode(
        x=alt.value(W), x2=alt.value(FR), y=alt.value(-H_STOCH - H_PRICE)),
    alt.Chart(one).mark_rule(color=AX_LINE, strokeWidth=1).encode(
        x=alt.value(W), x2=alt.value(FR), y=alt.value(H_RSI)),
    alt.Chart(one).mark_rule(color=AX_LINE, strokeWidth=1).encode(
        x=alt.value(W), y=alt.value(H_RSI), y2=alt.value(H_RSI + 47)),
    # outer frame
    alt.Chart(one).mark_rule(color=FRAME, strokeWidth=1).encode(
        x=alt.value(FR), y=alt.value(-H_STOCH - H_PRICE), y2=alt.value(H_RSI + 47)),
    alt.Chart(one).mark_rule(color=FRAME, strokeWidth=1).encode(
        x=alt.value(0), x2=alt.value(FR), y=alt.value(H_RSI + 47)),
    alt.Chart(one).mark_rule(color=FRAME, strokeWidth=1).encode(
        x=alt.value(0), y=alt.value(H_RSI), y2=alt.value(H_RSI + 47)),
    # branding: logo mark (T, dot, slanted stroke) and word mark
    alt.Chart(one).mark_text(text="T", fontSize=24, fontWeight="bold", font="DejaVu Sans",
                             align="center", baseline="middle", color="#131722").encode(
        x=alt.value(8), y=alt.value(LOGO_Y)),
    alt.Chart(one).mark_point(filled=True, size=28, color="#131722", opacity=1).encode(
        x=alt.value(18.5), y=alt.value(LOGO_Y - 3)),
    alt.Chart(one).mark_rule(color="#131722", strokeWidth=6, strokeCap="butt").encode(
        x=alt.value(28), x2=alt.value(22), y=alt.value(LOGO_Y - 7), y2=alt.value(LOGO_Y + 7)),
    alt.Chart(one).mark_text(text="TradingView", fontSize=20, font="Lato",
                             align="left", baseline="middle", color="#131722").encode(
        x=alt.value(36), y=alt.value(LOGO_Y + 1)),
]

rsi = alt.layer(r_band, r_rules, r_line, *deco).properties(width=W, height=H_RSI)

chart = alt.vconcat(price, stoch, rsi, spacing=0, bounds="flush").properties(
    padding={"left": 6, "top": 0, "right": 5, "bottom": 5},
    background="#ffffff",
).configure_view(stroke=FRAME, strokeWidth=1)

chart.save("out.html", embed_options={"renderer": "svg", "actions": False})
